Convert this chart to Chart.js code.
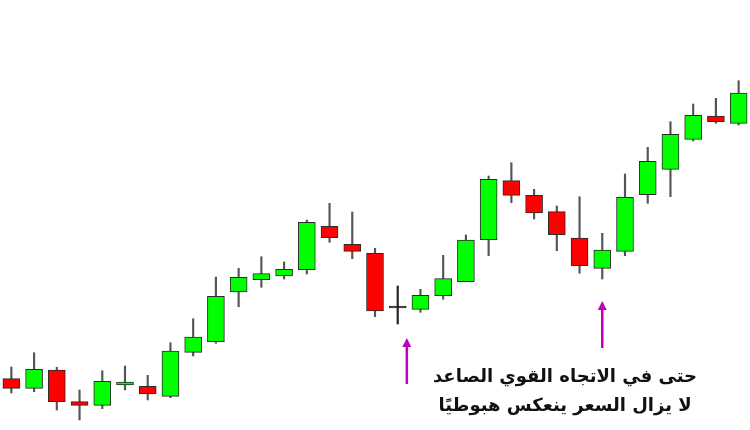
<!DOCTYPE html>
<html lang="ar">
<head>
    <meta charset="UTF-8">
    <title>Candles</title>
    <script src="https://cdn.jsdelivr.net/npm/chart.js"></script>
    <style>
        body {
            margin: 0;
            padding: 0;
            background-color: #ffffff;
        }
        .wrap {
            position: relative;
            width: 750px;
            height: 430px;
        }
        .note {
            position: absolute;
            left: 415px;
            top: 361px;
            width: 300px;
            text-align: center;
            white-space: nowrap;
            font-family: "DejaVu Sans", sans-serif;
            font-weight: bold;
            font-size: 18px;
            line-height: 29px;
            color: #111;
        }
    </style>
</head>
<body>
    <div class="wrap">
        <canvas id="chart" width="750" height="430"></canvas>
        <div class="note" dir="rtl">حتى في الاتجاه القوي الصاعد<br>لا يزال السعر ينعكس هبوطيًا</div>
    </div>

    <script>
        // candle data
        const days = Array.from({length: 33}, (_, i) => 'D' + (i + 1));
        const opens  = [105.13, 104.17, 106.00, 102.83, 102.47, 104.50, 104.37, 103.37, 107.77, 108.83, 113.80,
                        115.03, 115.40, 116.03, 120.37, 118.57, 117.67, 112.20, 112.07, 113.43, 114.83, 119.03,
                        124.93, 123.47, 121.83, 119.20, 116.17, 117.87, 123.53, 126.07, 129.07, 131.40, 130.67];
        const highs  = [106.30, 107.73, 106.27, 104.00, 105.93, 106.40, 105.47, 108.73, 111.13, 115.30, 116.17,
                        117.33, 116.80, 121.00, 122.67, 121.80, 118.17, 114.40, 114.07, 117.47, 119.50, 125.40,
                        126.73, 124.07, 122.40, 123.33, 119.67, 125.60, 128.27, 130.83, 132.60, 133.17, 134.93];
        const lows   = [103.70, 103.83, 102.00, 101.00, 102.13, 104.00, 103.00, 103.23, 107.40, 108.67, 112.33,
                        114.27, 115.10, 115.60, 118.77, 117.13, 111.33, 110.60, 111.77, 113.07, 114.83, 117.43,
                        122.73, 121.10, 117.93, 115.67, 115.10, 117.43, 122.67, 123.33, 128.90, 130.67, 130.50];
        const closes = [104.17, 106.07, 102.83, 102.47, 104.87, 104.80, 103.60, 107.90, 109.30, 113.37, 115.27,
                        115.63, 116.07, 120.77, 119.23, 117.87, 111.90, 112.20, 113.47, 115.13, 119.00, 125.07,
                        123.47, 121.70, 119.53, 116.43, 118.00, 123.27, 126.87, 129.57, 131.47, 130.83, 133.70];

        // arrows: candle position, tail price, tip price
        const arrowAt   = [17.4, 26];
        const arrowFrom = [104.6, 108.2];
        const arrowTo   = [109.2, 112.9];

        const bodyColors = opens.map((o, i) => closes[i] > o ? '#00ff00' : (closes[i] < o ? '#ff0000' : '#000000'));

        const arrowPlugin = {
            id: 'arrows',
            afterDatasetsDraw(chart) {
                const ctx = chart.ctx;
                const xs = chart.scales.x, ys = chart.scales.y;
                ctx.save();
                ctx.strokeStyle = '#c000c0';
                ctx.fillStyle = '#c000c0';
                ctx.lineWidth = 2.5;
                arrowAt.forEach((a, i) => {
                    const x = xs.getPixelForValue(a);
                    const y0 = ys.getPixelForValue(arrowFrom[i]);
                    const y1 = ys.getPixelForValue(arrowTo[i]);
                    ctx.beginPath();
                    ctx.moveTo(x, y0);
                    ctx.lineTo(x, y1 + 6);
                    ctx.stroke();
                    ctx.beginPath();
                    ctx.moveTo(x, y1);
                    ctx.lineTo(x - 4.5, y1 + 9);
                    ctx.lineTo(x + 4.5, y1 + 9);
                    ctx.closePath();
                    ctx.fill();
                });
                ctx.restore();
            }
        };

        new Chart(document.getElementById('chart'), {
            type: 'bar',
            data: {
                labels: days,
                datasets: [{
                    label: 'body',
                    data: opens.map((o, i) => [o, closes[i]]),
                    backgroundColor: bodyColors,
                    borderColor: '#2b2b2b',
                    borderWidth: 1,
                    borderSkipped: false,
                    barThickness: 17,
                    minBarLength: 2,
                    grouped: false,
                    order: 1
                }, {
                    label: 'wick',
                    data: lows.map((l, i) => [l, highs[i]]),
                    backgroundColor: bodyColors.map(c => c === '#000000' ? '#222' : '#555'),
                    barThickness: 1.5,
                    grouped: false,
                    order: 2
                }]
            },
            options: {
                responsive: false,
                animation: false,
                layout: { padding: 0 },
                plugins: {
                    legend: { display: false },
                    tooltip: { enabled: false }
                },
                scales: {
                    x: { display: false },
                    y: { display: false, min: 100, max: 143 }
                }
            },
            plugins: [arrowPlugin]
        });
    </script>
</body>
</html>
